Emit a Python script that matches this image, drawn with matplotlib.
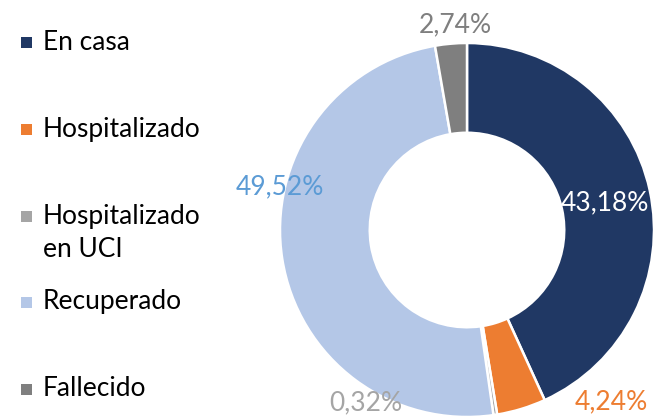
import numpy as np
import matplotlib.pyplot as plt
from matplotlib.patches import Rectangle

plt.rcParams['font.family'] = ['Lato', 'DejaVu Sans']

# data
categories = ["En casa", "Hospitalizado", "Hospitalizado\nen UCI", "Recuperado", "Fallecido"]
values = [43.18, 4.24, 0.32, 49.52, 2.74]
colors = ["#203864", "#ED7D31", "#A5A5A5", "#B4C7E7", "#7F7F7F"]
label_colors = ["white", "#ED7D31", "#A5A5A5", "#5B9BD5", "#7F7F7F"]
# label placement (angle in degrees, radius) as Excel put them
label_pos = [(11, 0.75), (-50, 1.2), (-120.5, 1.07), (167, 1.025), (93.3, 1.10)]

W, H = 659, 418
fig = plt.figure(figsize=(W / 100, H / 100), dpi=100)

# donut
cx, cy, R = 467, 230, 187
ax = fig.add_axes([(cx - R) / W, (H - cy - R) / H, 2 * R / W, 2 * R / H])
ax.pie(values, colors=colors, startangle=90, counterclock=False, radius=1,
       wedgeprops=dict(width=0.48, edgecolor="white", linewidth=1.8))
ax.set_xlim(-1, 1)
ax.set_ylim(-1, 1)
ax.set_aspect("equal")
ax.axis("off")

fs = 19
for v, c, (ang, r) in zip(values, label_colors, label_pos):
    t = np.deg2rad(ang)
    txt = f"{v:.2f}%".replace(".", ",")
    ax.text(r * np.cos(t), r * np.sin(t), txt, color=c, fontsize=fs,
            ha="center", va="center", clip_on=False)

# legend, drawn by hand to match the spacing
leg_y = [42, 129, 233, 302, 389]
for cat, c, y in zip(categories, colors, leg_y):
    if "\n" in cat:
        sq_y = y - 17
    else:
        sq_y = y
    fig.patches.append(Rectangle((21 / W, (H - sq_y - 5.5) / H), 11 / W, 11 / H,
                                 transform=fig.transFigure, facecolor=c, edgecolor="none"))
    fig.text(43 / W, (H - y) / H, cat, fontsize=fs, color="black",
             ha="left", va="center", linespacing=1.42)

fig.savefig("out.png", dpi=100)
